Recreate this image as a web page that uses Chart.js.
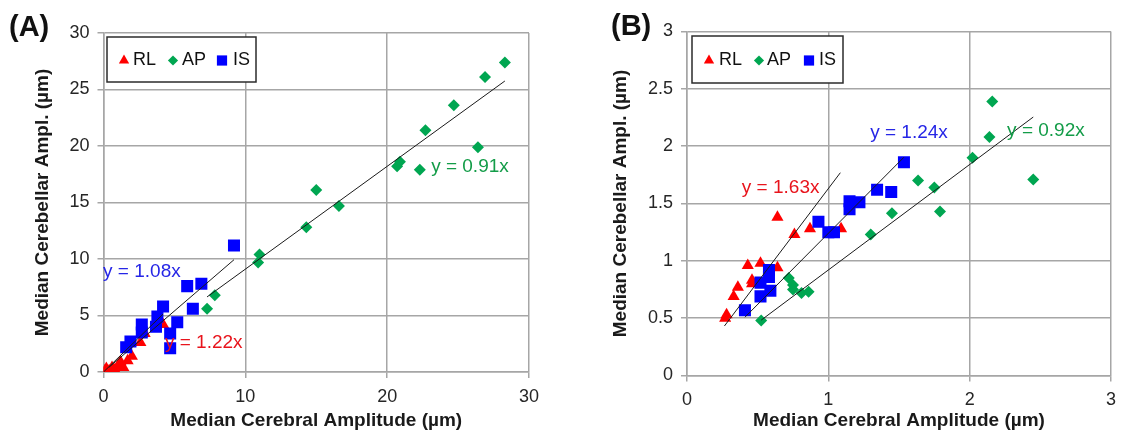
<!DOCTYPE html>
<html>
<head>
<meta charset="utf-8">
<script src="https://cdn.jsdelivr.net/npm/chart.js@4.4.0/dist/chart.umd.min.js"></script>
<style>
	html, body { margin: 0; padding: 0; background: #fff; }
	body { width: 1124px; height: 436px; position: relative; overflow: hidden; font-family: 'Liberation Sans', Arial, sans-serif; }
	.panel { position: absolute; top: 0; height: 436px; }
	#panelA { left: 0; width: 560px; }
	#panelB { left: 580px; width: 544px; }
	.tag { position: absolute; font-weight: bold; font-size: 29px; line-height: 1; color: #111; }
</style>
</head>
<body>
<div class="panel" id="panelA"><canvas id="chartA"></canvas></div>
<div class="panel" id="panelB"><canvas id="chartB"></canvas></div>
<div class="tag" style="left:9px;top:12px">(A)</div>
<div class="tag" style="left:611px;top:11px">(B)</div>
<script>
const SERIES = ['RL', 'AP', 'IS'];

// panel A values (µm)
const A_RL_X = [0.1, 0.2, 0.4, 0.6, 0.8, 1.0, 1.2, 1.4, 1.7, 2.0, 2.6, 2.9, 4.2];
const A_RL_Y = [0.1, 0.3, 0.1, 0.4, 0.2, 0.5, 0.9, 0.4, 1.0, 1.4, 2.6, 3.4, 4.2];
const A_AP_X = [7.3, 7.85, 10.9, 11.0, 14.3, 15.0, 16.6, 20.7, 20.9, 22.3, 22.7, 24.7, 26.4, 26.9, 28.3];
const A_AP_Y = [5.6, 6.8, 9.7, 10.4, 12.8, 16.1, 14.7, 18.2, 18.6, 17.9, 21.4, 23.6, 19.9, 26.1, 27.4];
const A_IS_X = [1.6, 1.9, 2.7, 2.7, 3.7, 3.8, 4.2, 4.7, 4.7, 5.2, 5.9, 6.3, 6.9, 9.2];
const A_IS_Y = [2.2, 2.7, 3.5, 4.2, 4.0, 4.9, 5.8, 3.4, 2.1, 4.4, 7.6, 5.6, 7.8, 11.2];
const A_SLOPES = [1.22, 0.91, 1.08];
const A_FIT_FROM = [0, 7.3, 0.4];
const A_FIT_TO = [4.2, 28.3, 9.2];
const A_X_TICKS = [0, 10, 20, 30];
const A_Y_TICKS = [0, 5, 10, 15, 20, 25, 30];

// panel B values (µm)
const B_RL_X = [0.27, 0.28, 0.33, 0.36, 0.43, 0.46, 0.46, 0.52, 0.64, 0.64, 0.76, 0.87, 1.09];
const B_RL_Y = [0.50, 0.53, 0.69, 0.77, 0.96, 0.83, 0.80, 0.98, 0.94, 1.38, 1.23, 1.28, 1.28];
const B_AP_X = [0.525, 0.72, 0.75, 0.75, 0.81, 0.86, 1.30, 1.45, 1.635, 1.75, 1.79, 2.02, 2.14, 2.16, 2.45];
const B_AP_Y = [0.48, 0.85, 0.79, 0.75, 0.72, 0.73, 1.23, 1.415, 1.70, 1.64, 1.43, 1.90, 2.08, 2.39, 1.71];
const B_IS_X = [0.41, 0.52, 0.52, 0.58, 0.59, 0.58, 0.93, 1.0, 1.04, 1.15, 1.15, 1.22, 1.345, 1.445, 1.535];
const B_IS_Y = [0.57, 0.69, 0.81, 0.86, 0.74, 0.92, 1.34, 1.25, 1.25, 1.45, 1.52, 1.51, 1.62, 1.60, 1.86];
const B_SLOPES = [1.63, 0.92, 1.24];
const B_FIT_FROM = [0.265, 0.525, 0.41];
const B_FIT_TO = [1.085, 2.45, 1.535];
const B_X_TICKS = [0, 1, 2, 3];
const B_Y_TICKS = [0, 0.5, 1, 1.5, 2, 2.5, 3];

const FONT = "'Liberation Sans', Arial, sans-serif";
const GRID = '#a6a6a6';
const MARK = {
	RL: { shape: 'triangle', color: '#ff0000', text: '#e8141c', radius: 7, order: 3 },
	AP: { shape: 'rectRot', color: '#00a651', text: '#139c48', radius: 6, order: 2 },
	IS: { shape: 'rect', color: '#0000ff', text: '#2626e6', radius: 8.5, order: 1 },
};

const boxLegend = {
	id: 'boxLegend',
	afterDatasetsDraw(chart, args, opts) {
		const { ctx, chartArea } = chart;
		const x0 = chartArea.left + opts.dx;
		const y0 = chartArea.top + opts.dy;
		const cy = y0 + opts.h / 2;
		ctx.save();
		ctx.fillStyle = '#fff';
		ctx.fillRect(x0, y0, opts.w, opts.h);
		ctx.strokeStyle = '#2b2b2b';
		ctx.lineWidth = 1.5;
		ctx.strokeRect(x0, y0, opts.w, opts.h);
		ctx.font = '18px ' + FONT;
		ctx.textBaseline = 'middle';
		SERIES.forEach((name, i) => {
			const m = MARK[name];
			ctx.fillStyle = m.color;
			Chart.helpers.drawPoint(ctx, { pointStyle: m.shape, radius: m.radius * 0.85, borderWidth: 0, rotation: 0 }, x0 + opts.marks[i], cy + 1);
			ctx.fillStyle = '#111';
			ctx.fillText(name, x0 + opts.texts[i], cy + 1);
		});
		ctx.restore();
	},
};

const eqLabels = {
	id: 'eqLabels',
	afterDatasetsDraw(chart, args, opts) {
		const { ctx, scales } = chart;
		ctx.save();
		ctx.font = '19px ' + FONT;
		ctx.textBaseline = 'middle';
		opts.items.forEach(it => {
			ctx.fillStyle = MARK[it.series].text;
			ctx.fillText(it.text, scales.x.getPixelForValue(it.x), scales.y.getPixelForValue(it.y));
		});
		ctx.restore();
	},
};

function toPoints(xs, ys) {
	return xs.map((x, i) => ({ x: x, y: ys[i] }));
}

function buildDatasets(xs, ys, slopes, from, to) {
	const sets = [];
	SERIES.forEach((name, i) => {
		const m = MARK[name];
		sets.push({
			label: name,
			data: toPoints(xs[i], ys[i]),
			pointStyle: m.shape,
			pointRadius: m.radius,
			backgroundColor: m.color,
			borderColor: m.color,
			borderWidth: 0,
			showLine: false,
			order: m.order,
		});
	});
	SERIES.forEach((name, i) => {
		sets.push({
			label: name + ' fit',
			data: [
				{ x: from[i], y: slopes[i] * from[i] },
				{ x: to[i], y: slopes[i] * to[i] },
			],
			showLine: true,
			borderColor: '#1a1a1a',
			borderWidth: 1,
			pointRadius: 0,
			order: 0,
		});
	});
	return sets;
}

function axis(max, ticks, title, size, titlePad) {
	return {
		type: 'linear',
		min: 0,
		max: max,
		afterBuildTicks: s => { s.ticks = ticks.map(v => ({ value: v })); },
		afterFit: s => { if (s.isHorizontal()) { s.height = size; } else { s.width = size; } },
		ticks: {
			color: '#262626',
			font: { family: FONT, size: 18 },
			padding: 8,
			callback: v => String(v),
		},
		grid: { color: GRID, lineWidth: 1.5, tickLength: 6, drawTicks: true },
		border: { color: GRID, width: 1.5 },
		title: { display: true, text: title, color: '#1a1a1a', font: { family: FONT, size: 19, weight: 'bold' }, padding: titlePad },
	};
}

function eqItems(slopes, spots) {
	return SERIES.map((name, i) => ({
		series: name,
		text: 'y = ' + slopes[i].toFixed(2) + 'x',
		x: spots[i][0],
		y: spots[i][1],
	}));
}

function makeChart(id, p) {
	return new Chart(document.getElementById(id), {
		type: 'scatter',
		data: { datasets: buildDatasets(p.xs, p.ys, p.slopes, p.from, p.to) },
		options: {
			responsive: true,
			maintainAspectRatio: false,
			animation: false,
			layout: { padding: p.padding },
			scales: {
				x: axis(p.xMax, p.xTicks, 'Median Cerebral Amplitude (µm)', p.xSize, { top: 0, bottom: 4 }),
				y: axis(p.yMax, p.yTicks, 'Median Cerebellar Ampl. (µm)', p.ySize, { top: 0, bottom: 0 }),
			},
			plugins: {
				legend: { display: false },
				tooltip: { enabled: false },
				boxLegend: p.legend,
				eqLabels: { items: eqItems(p.slopes, p.spots) },
			},
		},
		plugins: [boxLegend, eqLabels],
	});
}

makeChart('chartA', {
	xs: [A_RL_X, A_AP_X, A_IS_X],
	ys: [A_RL_Y, A_AP_Y, A_IS_Y],
	slopes: A_SLOPES, from: A_FIT_FROM, to: A_FIT_TO,
	xMax: 30, yMax: 30, xTicks: A_X_TICKS, yTicks: A_Y_TICKS,
	padding: { left: 31, top: 33, right: 31, bottom: 0 },
	xSize: 64, ySize: 72.5,
	legend: { dx: 3.5, dy: 4, w: 149, h: 45, marks: [17, 66, 115], texts: [26, 75, 126] },
	spots: [[4.33, 2.57], [23.1, 18.2], [-0.03, 8.85]],
});

makeChart('chartB', {
	xs: [B_RL_X, B_AP_X, B_IS_X],
	ys: [B_RL_Y, B_AP_Y, B_IS_Y],
	slopes: B_SLOPES, from: B_FIT_FROM, to: B_FIT_TO,
	xMax: 3, yMax: 3, xTicks: B_X_TICKS, yTicks: B_Y_TICKS,
	padding: { left: 29, top: 31.5, right: 6.5, bottom: 0 },
	xSize: 60.5, ySize: 78,
	legend: { dx: 5, dy: 4.5, w: 151, h: 47, marks: [17, 67, 117], texts: [27, 75, 127] },
	spots: [[0.388, 1.633], [2.265, 2.134], [1.296, 2.113]],
});
</script>
</body>
</html>
